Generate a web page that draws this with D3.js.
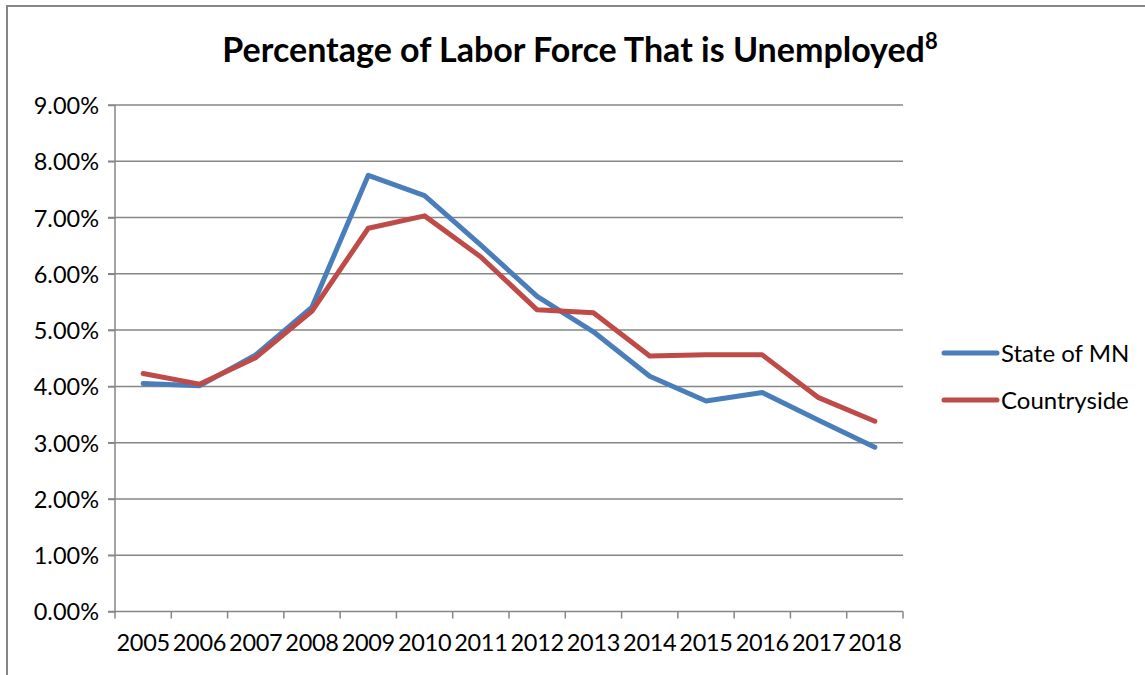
<!DOCTYPE html>
<html>
<head>
<meta charset="utf-8">
<script src="https://cdn.jsdelivr.net/npm/d3@7"></script>
<style>
html,body{margin:0;padding:0;background:#fff;}
svg{display:block;}
text{font-family:Lato,"Open Sans",sans-serif;fill:#000;}
</style>
</head>
<body>
<svg id="chart" width="1145" height="675"></svg>
<script>
const years = ["2005","2006","2007","2008","2009","2010","2011","2012","2013","2014","2015","2016","2017","2018"];
const stateMN = [4.05, 4.01, 4.56, 5.41, 7.75, 7.39, 6.51, 5.60, 4.97, 4.18, 3.74, 3.89, 3.40, 2.92];
const countryside = [4.23, 4.04, 4.51, 5.34, 6.81, 7.03, 6.30, 5.36, 5.31, 4.54, 4.56, 4.56, 3.80, 3.38];
const yTicks = [0,1,2,3,4,5,6,7,8,9];
const seriesNames = ["State of MN","Countryside"];
const seriesColors = ["#4A7EBB","#BE4B48"];
const titleText = "Percentage of Labor Force That is Unemployed";
const titleSup = "8";

const svg = d3.select("#chart");
const pL = 115, pR = 903, pT = 105, pB = 611.5;
const grid = "#868686";

// outer border
svg.append("rect").attr("x",7).attr("y",6).attr("width",1145).attr("height",680)
  .attr("fill","none").attr("stroke",grid).attr("stroke-width",2);

const x = d3.scaleBand().domain(years).range([pL,pR]).padding(0);
const y = d3.scaleLinear().domain([0,9]).range([pB,pT]);

// gridlines
svg.append("g").selectAll("line").data(yTicks.filter(d=>d>0)).join("line")
  .attr("x1",pL-7).attr("x2",pR).attr("y1",d=>y(d)).attr("y2",d=>y(d))
  .attr("stroke",grid).attr("stroke-width",1.5);

// y axis
const yAxis = d3.axisLeft(y).tickValues(yTicks).tickFormat(d=>d3.format(".2f")(d)+"%").tickSize(7).tickPadding(9);
const gy = svg.append("g").attr("transform",`translate(${pL},0)`).call(yAxis);
gy.select(".domain").attr("stroke",grid).attr("stroke-width",1.5).attr("d",`M-7,${pB}H0V${pT}`);
gy.selectAll(".tick line").attr("stroke",grid).attr("stroke-width",1.5);
gy.selectAll(".tick text").attr("font-size",23.5).attr("font-family","Lato").attr("fill","#000").attr("dy","0.36em");

// x axis
const xAxis = d3.axisBottom(x).tickSize(0).tickPadding(23);
const gx = svg.append("g").attr("transform",`translate(0,${pB})`).call(xAxis);
gx.select(".domain").attr("stroke",grid).attr("stroke-width",1.5).attr("d",`M${pL},0H${pR}`);
gx.selectAll(".tick text").attr("font-size",23.5).attr("font-family","Lato").attr("fill","#000").attr("letter-spacing","-0.3px");
// x tick marks at band boundaries
const bounds = years.map(d=>x(d)).concat([x(years[years.length-1])+x.bandwidth()]);
svg.append("g").selectAll("line").data(bounds).join("line")
  .attr("x1",d=>d).attr("x2",d=>d).attr("y1",pB).attr("y2",pB+7)
  .attr("stroke",grid).attr("stroke-width",1.5);

// lines
const line = d3.line().x((d,i)=>x(years[i])+x.bandwidth()/2).y(d=>y(d));
[stateMN, countryside].forEach((s,i)=>{
  svg.append("path").datum(s).attr("d",line).attr("fill","none")
    .attr("stroke",seriesColors[i]).attr("stroke-width",5)
    .attr("stroke-linejoin","round").attr("stroke-linecap","round");
});

// title
const t = svg.append("text").attr("x",580).attr("y",62).attr("text-anchor","middle")
  .attr("font-size",34).attr("font-weight","bold");
t.append("tspan").text(titleText);
t.append("tspan").text(titleSup).attr("font-size",22).attr("dy",-13);

// legend
const lg = svg.append("g");
seriesNames.forEach((n,i)=>{
  const ly = 353 + i*47;
  lg.append("line").attr("x1",944).attr("x2",997).attr("y1",ly).attr("y2",ly)
    .attr("stroke",seriesColors[i]).attr("stroke-width",5).attr("stroke-linecap","round");
  lg.append("text").attr("x",1001).attr("y",ly).attr("dy","0.36em").attr("font-size",24).text(n);
});
</script>
</body>
</html>
